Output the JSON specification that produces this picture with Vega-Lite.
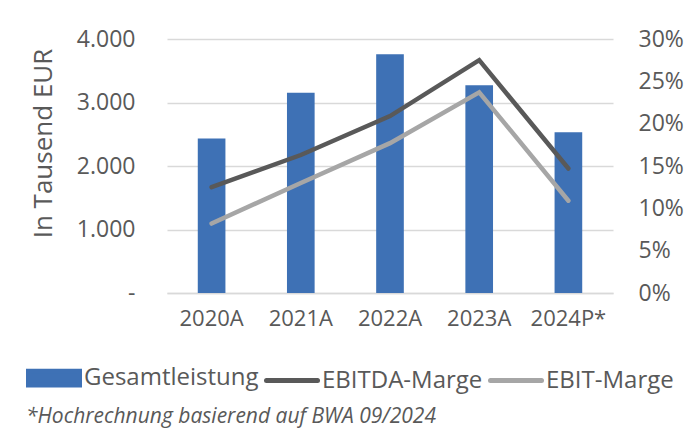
{
  "$schema": "https://vega.github.io/schema/vega-lite/v6.json",
  "width": 446,
  "height": 254,
  "autosize": {"type": "none"},
  "padding": {"left": 167, "top": 39, "right": 82, "bottom": 151},
  "background": "white",
  "config": {
    "font": "Open Sans",
    "view": {"stroke": null},
    "axis": {"labelFont": "Open Sans", "labelColor": "#595959", "titleFont": "Open Sans", "titleColor": "#595959", "titleFontWeight": "normal"}
  },
  "title": {
    "text": "*Hochrechnung basierend auf BWA 09/2024",
    "orient": "bottom",
    "anchor": "start",
    "font": "Open Sans",
    "fontStyle": "italic",
    "fontWeight": "normal",
    "fontSize": 21,
    "color": "#595959",
    "dx": 0,
    "offset": 11
  },
  "data": {
    "values": [
      {"jahr": "2020A", "Gesamtleistung": 2435, "EBITDA-Marge": 0.125, "EBIT-Marge": 0.082},
      {"jahr": "2021A", "Gesamtleistung": 3155, "EBITDA-Marge": 0.163, "EBIT-Marge": 0.130},
      {"jahr": "2022A", "Gesamtleistung": 3760, "EBITDA-Marge": 0.209, "EBIT-Marge": 0.177},
      {"jahr": "2023A", "Gesamtleistung": 3270, "EBITDA-Marge": 0.275, "EBIT-Marge": 0.237},
      {"jahr": "2024P*", "Gesamtleistung": 2530, "EBITDA-Marge": 0.147, "EBIT-Marge": 0.109}
    ]
  },
  "encoding": {
    "x": {
      "field": "jahr",
      "type": "nominal",
      "sort": null,
      "scale": {"paddingInner": 0.69, "paddingOuter": 0.345},
      "axis": {"title": null, "labelAngle": 0, "labelFontSize": 22, "labelPadding": 15, "ticks": false, "domain": true, "domainColor": "#d9d9d9", "domainWidth": 1.5}
    }
  },
  "layer": [
    {
      "mark": {"type": "bar", "color": "#3e71b5"},
      "encoding": {
        "y": {
          "field": "Gesamtleistung",
          "type": "quantitative",
          "scale": {"domain": [0, 4000]},
          "axis": {
            "title": "In Tausend EUR",
            "titleFontSize": 26,
            "titlePadding": 20,
            "titleY": 104,
            "values": [0, 1000, 2000, 3000, 4000],
            "labelExpr": "datum.value == 0 ? '-\u00a0\u00a0\u00a0' : replace(format(datum.value, ','), ',', '.')",
            "labelFontSize": 23,
            "labelPadding": 32,
            "ticks": false,
            "domain": false,
            "grid": true,
            "gridColor": "#d9d9d9",
            "gridWidth": 1.5
          }
        },
        "color": {
          "datum": "Gesamtleistung",
          "type": "nominal",
          "title": null,
          "scale": {"domain": ["Gesamtleistung", "EBITDA-Marge", "EBIT-Marge"], "range": ["#3e71b5", "#595959", "#a6a6a6"]},
          "legend": {
            "orient": "none",
            "legendX": -141,
            "legendY": 311,
            "direction": "horizontal",
            "title": null,
            "symbolSize": 2601,
            "labelFont": "Open Sans",
            "labelFontSize": 24,
            "labelColor": "#595959",
            "labelLimit": 400,
            "labelOffset": 2,
            "columnPadding": -3,
            "encode": {
              "symbols": {
                "update": {
                  "shape": {"signal": "datum.value === 'Gesamtleistung' ? 'M-1,-0.27H1V0.27H-1Z' : 'stroke'"},
                  "fill": {"signal": "datum.value === 'Gesamtleistung' ? '#3e71b5' : 'transparent'"},
                  "stroke": {"signal": "datum.value === 'Gesamtleistung' ? 'transparent' : (datum.value === 'EBITDA-Marge' ? '#595959' : '#a6a6a6')"},
                  "strokeWidth": {"value": 5},
                  "strokeCap": {"value": "round"},
                  "size": {"value": 2601},
                  "opacity": {"value": 1}
                }
              }
            }
          }
        }
      }
    },
    {
      "transform": [{"fold": ["EBITDA-Marge", "EBIT-Marge"], "as": ["reihe", "wert"]}],
      "mark": {"type": "line", "strokeWidth": 4.5, "strokeCap": "round", "strokeJoin": "miter"},
      "encoding": {
        "y": {
          "field": "wert",
          "type": "quantitative",
          "scale": {"domain": [0, 0.3]},
          "axis": {
            "orient": "right",
            "title": null,
            "values": [0, 0.05, 0.1, 0.15, 0.2, 0.25, 0.3],
            "format": ".0%",
            "labelFontSize": 23,
            "labelPadding": 25,
            "ticks": false,
            "domain": false,
            "grid": false
          }
        },
        "color": {"field": "reihe", "type": "nominal", "title": null}
      }
    }
  ],
  "resolve": {"scale": {"y": "independent"}}
}
